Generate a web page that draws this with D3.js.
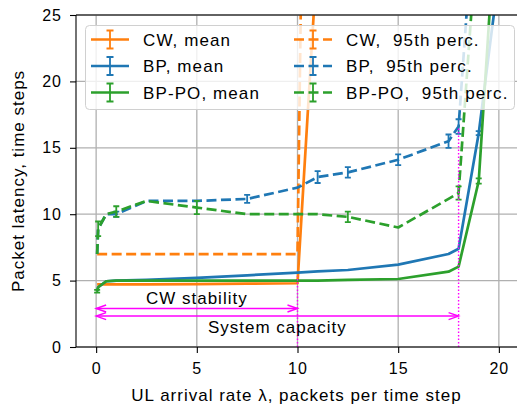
<!DOCTYPE html>
<html>
<head>
<meta charset="utf-8">
<script src="https://d3js.org/d3.v7.min.js"></script>
<style>
  body { margin: 0; background: #fff; }
  svg { display: block; }
  text { font-family: "Liberation Sans", Arial, sans-serif; fill: #000; white-space: pre; }
</style>
</head>
<body>
<div id="chart"></div>
<script>

// arrival rates (x) shared by all series, null = not plotted
var lambdas  = [0.05, 0.1, 0.5, 1, 2.5, 5, 7.5, 10, 11, 12.5, 15, 17.5, 18, 19, 20];

var cwMean   = [4.72, 4.72, 4.72, 4.72, 4.72, 4.74, 4.77, 4.8, 30, null, null, null, null, null, null];
var bpMean   = [4.2, 4.5, 4.95, 5.0, 5.05, 5.2, 5.4, 5.6, 5.7, 5.8, 6.2, 7.0, 7.4, 16.1, 28];
var bpPoMean = [4.2, 4.5, 4.95, 5.0, 5.0, 5.0, 5.0, 5.0, 5.0, 5.05, 5.12, 5.67, 6.05, 12.5, 36];
var cwP95    = [7, 7, 7, 7, 7, 7, 7, 7, 120, null, null, null, null, null, null];
var bpP95    = [7, 8.9, 10, 10.0, 11.0, 11.0, 11.15, 12.0, 12.8, 13.15, 14.1, 15.5, 16.6, 38, null];
var bpPoP95  = [7, 8.9, 10, 10.2, 11.0, 10.5, 10.0, 10.0, 10.0, 9.8, 9.0, 11.15, 11.6, 33, null];

// half-width of the error bars
var cwMeanErr   = [0, 0, 0, 0, 0, 0, 0, 0, 0, 0, 0, 0, 0, 0, 0];
var bpMeanErr   = [0, 0, 0, 0, 0, 0, 0, 0, 0, 0, 0, 0, 0, 0.15, 0];
var bpPoMeanErr = [0.1, 0, 0, 0, 0, 0, 0, 0, 0, 0, 0, 0, 0, 0.2, 0];
var cwP95Err    = [0, 0, 0, 0, 0, 0, 0, 0, 0, 0, 0, 0, 0, 0, 0];
var bpP95Err    = [0, 0, 0, 0.2, 0, 0, 0.3, 0, 0.45, 0.4, 0.4, 0.5, 0.55, 0, 0];
var bpPoP95Err  = [0, 0.55, 0, 0.4, 0, 0.5, 0, 0, 0, 0.4, 0, 0, 0.5, 0, 0];

var seriesNames = ["CW, mean", "BP, mean", "BP-PO, mean", "CW,  95th perc.", "BP,  95th perc.", "BP-PO,  95th perc."];

var xTicks = [0, 5, 10, 15, 20];
var yTicks = [0, 5, 10, 15, 20, 25];

// stability limits: x position and top of the dotted marker
var limitX   = [10, 18];
var limitTop = [5.3, 16.6];
// arrows: label, from, to, arrow height, label position
var arrowLabels = ["CW stability", "System capacity"];
var arrowFrom   = [0, 0];
var arrowTo     = [10, 18];
var arrowY      = [2.9, 2.33];
var labelX      = [5, 9];
var labelY      = [3.24, 1.03];

var blue = "#1f77b4", orange = "#ff7f0e", green = "#2ca02c", magenta = "#ff00ff";

var W = 517, H = 406;
var margin = { left: 76, right: -2, top: 15, bottom: 59 };
var width = W - margin.left - margin.right;
var height = H - margin.top - margin.bottom;

var svg = d3.select("#chart").append("svg")
    .attr("width", W)
    .attr("height", H);

var g = svg.append("g")
    .attr("transform", "translate(" + margin.left + "," + margin.top + ")");

var x = d3.scaleLinear().domain([-1, 21]).range([0, width]);
var y = d3.scaleLinear().domain([0, 25]).range([height, 0]);

g.append("clipPath").attr("id", "clip")
  .append("rect").attr("width", width).attr("height", height);

// grid
g.selectAll(".gx").data(xTicks).enter().append("line")
    .attr("x1", function(d){ return x(d) }).attr("x2", function(d){ return x(d) })
    .attr("y1", 0).attr("y2", height)
    .attr("stroke", "#b0b0b0").attr("stroke-width", 1.3);
g.selectAll(".gy").data(yTicks).enter().append("line")
    .attr("y1", function(d){ return y(d) }).attr("y2", function(d){ return y(d) })
    .attr("x1", 0).attr("x2", width)
    .attr("stroke", "#b0b0b0").attr("stroke-width", 1.3);

// axes
var xAxis = d3.axisBottom(x).tickValues(xTicks).tickSize(6).tickPadding(10);
var yAxis = d3.axisLeft(y).tickValues(yTicks).tickSize(6).tickPadding(8);

var gx = g.append("g").attr("transform", "translate(0," + height + ")").call(xAxis);
var gy = g.append("g").call(yAxis);
[gx, gy].forEach(function(a){
    a.select(".domain").remove();
    a.selectAll("line").attr("stroke", "#000").attr("stroke-width", 1.1);
    a.selectAll("text").attr("font-size", 16).style("letter-spacing", "1px")
        .attr("font-family", "Liberation Sans, Arial, sans-serif").attr("fill", "#000");
});

// data series
var series = [
    { name: seriesNames[0], vals: cwMean,   err: cwMeanErr,   color: orange, dash: null },
    { name: seriesNames[1], vals: bpMean,   err: bpMeanErr,   color: blue,   dash: null },
    { name: seriesNames[2], vals: bpPoMean, err: bpPoMeanErr, color: green,  dash: null },
    { name: seriesNames[3], vals: cwP95,    err: cwP95Err,    color: orange, dash: "10,4.5" },
    { name: seriesNames[4], vals: bpP95,    err: bpP95Err,    color: blue,   dash: "10,4.5" },
    { name: seriesNames[5], vals: bpPoP95,  err: bpPoP95Err,  color: green,  dash: "10,4.5" }
];

var line = d3.line()
    .defined(function(d){ return d.v != null })
    .x(function(d){ return x(d.x) })
    .y(function(d){ return y(d.v) });

var plot = g.append("g").attr("clip-path", "url(#clip)");

series.forEach(function(s){
    var pts = lambdas.map(function(l, i){ return { x: l, v: s.vals[i], e: s.err[i] } });
    plot.append("path")
        .datum(pts)
        .attr("d", line)
        .attr("fill", "none")
        .attr("stroke", s.color)
        .attr("stroke-width", 2.7)
        .attr("stroke-dasharray", s.dash)
        .attr("stroke-linejoin", "round");

    plot.selectAll(null)
        .data(pts.filter(function(d){ return d.v != null && d.e > 0 }))
        .enter().append("path")
        .attr("d", function(d){
            var px = x(d.x), y0 = y(d.v - d.e), y1 = y(d.v + d.e);
            return "M" + px + "," + y0 + "V" + y1 +
                "M" + (px - 3) + "," + y0 + "H" + (px + 3) +
                "M" + (px - 3) + "," + y1 + "H" + (px + 3);
        })
        .attr("fill", "none")
        .attr("stroke", s.color)
        .attr("stroke-width", 1.8);
});

// dotted limit markers
g.selectAll(".limit").data(limitX).enter().append("line")
    .attr("x1", function(d){ return x(d) }).attr("x2", function(d){ return x(d) })
    .attr("y1", y(0)).attr("y2", function(d, i){ return y(limitTop[i]) })
    .attr("stroke", magenta).attr("stroke-width", 1.4)
    .attr("stroke-dasharray", "1.5,2");

// double arrows
arrowLabels.forEach(function(lab, i){
    var xa = x(arrowFrom[i]), xb = x(arrowTo[i]), ya = y(arrowY[i]);
    g.append("line")
        .attr("x1", xa).attr("x2", xb).attr("y1", ya).attr("y2", ya)
        .attr("stroke", magenta).attr("stroke-width", 1.4);
    g.append("path")
        .attr("d", "M" + (xa + 10) + "," + (ya - 3.5) + "L" + xa + "," + ya + "L" + (xa + 10) + "," + (ya + 3.5) +
                   "M" + (xb - 10) + "," + (ya - 3.5) + "L" + xb + "," + ya + "L" + (xb - 10) + "," + (ya + 3.5))
        .attr("fill", "none")
        .attr("stroke", magenta).attr("stroke-width", 1.4);
    g.append("text")
        .attr("x", x(labelX[i]))
        .attr("y", y(labelY[i]))
        .attr("text-anchor", "middle")
        .attr("font-size", 17)
        .style("letter-spacing", "1px")
        .text(lab);
});

// spines
g.append("line").attr("x1", 0).attr("x2", width).attr("y1", height).attr("y2", height)
    .attr("stroke", "#000").attr("stroke-width", 1.1);
g.append("line").attr("x1", 0).attr("x2", width).attr("y1", 0).attr("y2", 0)
    .attr("stroke", "#000").attr("stroke-width", 1.1);
g.append("line").attr("x1", 0).attr("x2", 0).attr("y1", 0).attr("y2", height)
    .attr("stroke", "#000").attr("stroke-width", 1.1);

// legend
var legend = svg.append("g");
legend.append("rect")
    .attr("x", 85.5).attr("y", 25.5).attr("width", 429).attr("height", 84)
    .attr("rx", 4)
    .attr("fill", "#fff").attr("fill-opacity", 0.8)
    .attr("stroke", "#d0d0d0").attr("stroke-width", 1);

var colX = [91, 294];
var rowY = [39.5, 66, 92.5];
series.forEach(function(s, i){
    var col = Math.floor(i / 3), row = i % 3;
    var lx = colX[col], ly = rowY[row];
    legend.append("line")
        .attr("x1", lx).attr("x2", lx + 38).attr("y1", ly).attr("y2", ly)
        .attr("stroke", s.color).attr("stroke-width", 2.7)
        .attr("stroke-dasharray", s.dash);
    var cx = lx + 19;
    legend.append("path")
        .attr("d", "M" + cx + "," + (ly - 9) + "V" + (ly + 9) +
            "M" + (cx - 3.5) + "," + (ly - 9) + "H" + (cx + 3.5) +
            "M" + (cx - 3.5) + "," + (ly + 9) + "H" + (cx + 3.5))
        .attr("fill", "none").attr("stroke", s.color).attr("stroke-width", 1.8);
    legend.append("text")
        .attr("x", lx + 52)
        .attr("y", ly + 6)
        .attr("font-size", 17)
        .style("letter-spacing", "1.1px")
        .text(s.name);
});

// axis titles
svg.append("text")
    .attr("x", margin.left + width / 2 - 1)
    .attr("y", 401)
    .attr("text-anchor", "middle")
    .attr("font-size", 17)
    .style("letter-spacing", "1px")
    .text("UL arrival rate \u03bb, packets per time step");

svg.append("text")
    .attr("transform", "translate(24," + (margin.top + height / 2) + ") rotate(-90)")
    .attr("text-anchor", "middle")
    .attr("font-size", 17)
    .style("letter-spacing", "1px")
    .text("Packet latency, time steps");

</script>
</body>
</html>
